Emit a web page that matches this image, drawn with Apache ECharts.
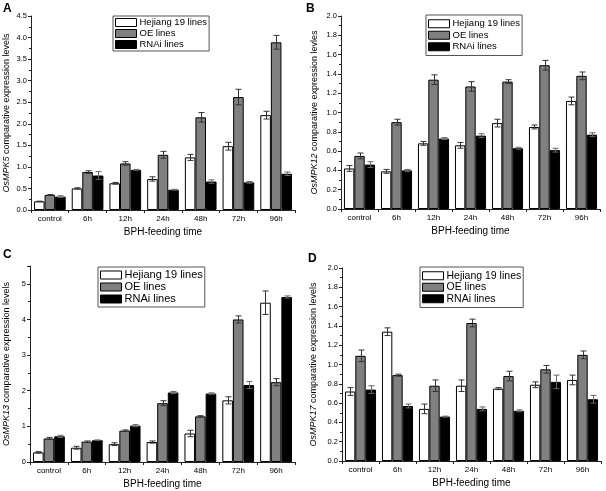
<!DOCTYPE html>
<html><head><meta charset="utf-8">
<script src="https://cdn.jsdelivr.net/npm/echarts@6/dist/echarts.min.js"></script>
<style>html,body{margin:0;padding:0;background:#fff}#c{width:606px;height:491px}</style>
</head><body><div id="c"></div>
<script>
const categories = ['control','6h','12h','24h','48h','72h','96h'];
const seriesNames = ['Hejiang 19 lines','OE lines','RNAi lines'];

// Panel A: OsMPK5
const aHejiang = [0.20,0.50,0.62,0.72,1.22,1.48,2.20];
const aHejiangErr = [0.005,0.015,0.02,0.05,0.07,0.09,0.09];
const aOE = [0.35,0.88,1.08,1.28,2.15,2.62,3.89];
const aOEErr = [0.01,0.03,0.04,0.08,0.11,0.18,0.16];
const aRNAi = [0.31,0.80,0.93,0.47,0.66,0.64,0.84];
const aRNAiErr = [0.02,0.09,0.01,0.01,0.04,0.02,0.04];

// Panel B: OsMPK12
const bHejiang = [0.42,0.39,0.68,0.66,0.89,0.85,1.12];
const bHejiangErr = [0.03,0.02,0.02,0.03,0.04,0.02,0.04];
const bOE = [0.55,0.90,1.34,1.27,1.32,1.49,1.38];
const bOEErr = [0.03,0.03,0.05,0.05,0.02,0.05,0.04];
const bRNAi = [0.46,0.40,0.73,0.76,0.63,0.61,0.77];
const bRNAiErr = [0.03,0.01,0.01,0.02,0.01,0.02,0.02];

// Panel C: OsMPK13
const cHejiang = [0.27,0.40,0.50,0.56,0.80,1.73,4.47];
const cHejiangErr = [0.02,0.04,0.04,0.03,0.09,0.10,0.33];
const cOE = [0.66,0.57,0.88,1.65,1.28,4.00,2.24];
const cOEErr = [0.03,0.02,0.02,0.07,0.02,0.10,0.10];
const cRNAi = [0.72,0.61,1.02,1.95,1.92,2.16,4.63];
const cRNAiErr = [0.03,0.01,0.03,0.03,0.02,0.10,0.03];

// Panel D: OsMPK17
const dHejiang = [0.72,1.34,0.54,0.78,0.75,0.79,0.84];
const dHejiangErr = [0.04,0.04,0.05,0.06,0.01,0.03,0.05];
const dOE = [1.09,0.89,0.78,1.43,0.88,0.95,1.10];
const dOEErr = [0.06,0.01,0.06,0.04,0.05,0.04,0.04];
const dRNAi = [0.74,0.57,0.46,0.54,0.52,0.82,0.64];
const dRNAiErr = [0.04,0.02,0.005,0.02,0.01,0.07,0.04];

const panelLabels = ['A','B','C','D'];
const yNames = [
  ['OsMPK5',' comparative expression levels'],
  ['OsMPK12',' comparative expression levles'],
  ['OsMPK13',' comparative expression levels'],
  ['OsMPK17',' comparative expression levels']
];
const yMax = [4.5, 2.0, 5.5, 2.0];
const yInterval = [0.5, 0.2, 1, 0.2];

const panels = [
  [[aHejiang,aHejiangErr],[aOE,aOEErr],[aRNAi,aRNAiErr]],
  [[bHejiang,bHejiangErr],[bOE,bOEErr],[bRNAi,bRNAiErr]],
  [[cHejiang,cHejiangErr],[cOE,cOEErr],[cRNAi,cRNAiErr]],
  [[dHejiang,dHejiangErr],[dOE,dOEErr],[dRNAi,dRNAiErr]]
];

const FONT = "'Liberation Sans', Arial, sans-serif";
const CAT_GAP = 0.16;
const fills = ['#ffffff','#808080','#000000'];

const grids = [
  {left:31, top:16, width:264, height:194},
  {left:341, top:16, width:259, height:193},
  {left:30, top:266, width:265, height:196},
  {left:342, top:268, width:259, height:193}
];
const nameGaps = [20, 22, 19, 24];
const legendPos = [
  {left:113, top:16, fs:9.5, lh:11, pad:[1,2,1,2]},
  {left:426, top:15, fs:9.5, lh:11.5, pad:[3,2,3,2]},
  {left:98, top:267, fs:11, lh:12, pad:[2,2,2,2]},
  {left:420, top:267, fs:10.5, lh:11.5, pad:[3,2,3,2]}
];
const labelPos = [[3,3],[306,3],[3,249],[308,253]];

const option = {
  backgroundColor:'#fff',
  animation:false,
  title: panelLabels.map((t,i)=>({text:t, left:labelPos[i][0], top:labelPos[i][1], padding:0,
    textStyle:{fontFamily:FONT, fontSize:12, fontWeight:'bold', color:'#000'}})),
  grid: grids,
  legend: legendPos.map((p,i)=>({
    data: seriesNames, orient:'vertical', left:p.left, top:p.top, padding:p.pad,
    itemGap:0, itemWidth:21, itemHeight:8, icon:'rect',
    borderColor:'#555', borderWidth:1, backgroundColor:'#fff',
    itemStyle:{borderColor:'#000', borderWidth:1},
    textStyle:{fontFamily:FONT, fontSize:p.fs, lineHeight:p.lh, color:'#000', padding:[0,0,0,-2]},
    selectedMode:false
  })),
  xAxis: grids.map((g,i)=>({
    type:'category', gridIndex:i, data:categories,
    name:'BPH-feeding time', nameLocation:'middle', nameGap:17,
    nameTextStyle:{fontFamily:FONT, fontSize:10, color:'#000'},
    axisLine:{lineStyle:{color:'#222', width:1}},
    axisTick:{show:true, length:3, lineStyle:{color:'#222'}},
    axisLabel:{fontFamily:FONT, fontSize:8, color:'#000', margin:5}
  })),
  yAxis: grids.map((g,i)=>({
    type:'value', gridIndex:i, min:0, max:yMax[i], interval:yInterval[i],
    name:'{i|'+yNames[i][0]+'}'+yNames[i][1], nameLocation:'middle', nameGap:nameGaps[i],
    nameTextStyle:{fontFamily:FONT, fontSize:9, color:'#000',
      rich:{i:{fontFamily:FONT, fontSize:9, fontStyle:'italic', color:'#000'}}},
    axisLine:{show:true, lineStyle:{color:'#222', width:1}},
    axisTick:{show:true, length:3, lineStyle:{color:'#222'}},
    minorTick:{show:true, splitNumber:2, length:2, lineStyle:{color:'#222'}},
    splitLine:{show:false},
    axisLabel:{fontFamily:FONT, fontSize:7.5, color:'#000', margin:4, showMaxLabel: i===2 ? false : true,
      formatter: v => i===2 ? String(v) : v.toFixed(1)}
  })),
  series: []
};

panels.forEach((panel, gi) => {
  panel.forEach((pair, s) => {
    option.series.push({
      type:'bar', name:seriesNames[s], xAxisIndex:gi, yAxisIndex:gi,
      data:pair[0], barGap:'0%', barCategoryGap:(CAT_GAP*100)+'%',
      itemStyle:{color:fills[s], borderColor:'#000', borderWidth:1}
    });
  });
  panel.forEach((pair, s) => {
    option.series.push({
      type:'custom', xAxisIndex:gi, yAxisIndex:gi, silent:true, z:5,
      encode:{x:0, y:1},
      data: pair[0].map((v,i)=>[i, v, pair[1][i]]),
      renderItem(params, api){
        const i = api.value(0), v = api.value(1), e = api.value(2);
        const band = api.size([1,0])[0];
        const bw = band*(1-CAT_GAP)/3;
        const x = Math.round(api.coord([i, v])[0] + (s-1)*bw) + 0.5;
        const yt = api.coord([i, v+e])[1], yb = api.coord([i, v-e])[1];
        const cap = 3;
        const st = {stroke: s===2 ? '#666' : '#333', lineWidth:1};
        return {type:'group', children:[
          {type:'line', shape:{x1:x,y1:yt,x2:x,y2:yb}, style:st},
          {type:'line', shape:{x1:x-cap,y1:yt,x2:x+cap,y2:yt}, style:st},
          {type:'line', shape:{x1:x-cap,y1:yb,x2:x+cap,y2:yb}, style:st}
        ]};
      }
    });
  });
});

const chart = echarts.init(document.getElementById('c'), null, {renderer:'canvas'});
chart.setOption(option);
</script>
</body></html>
